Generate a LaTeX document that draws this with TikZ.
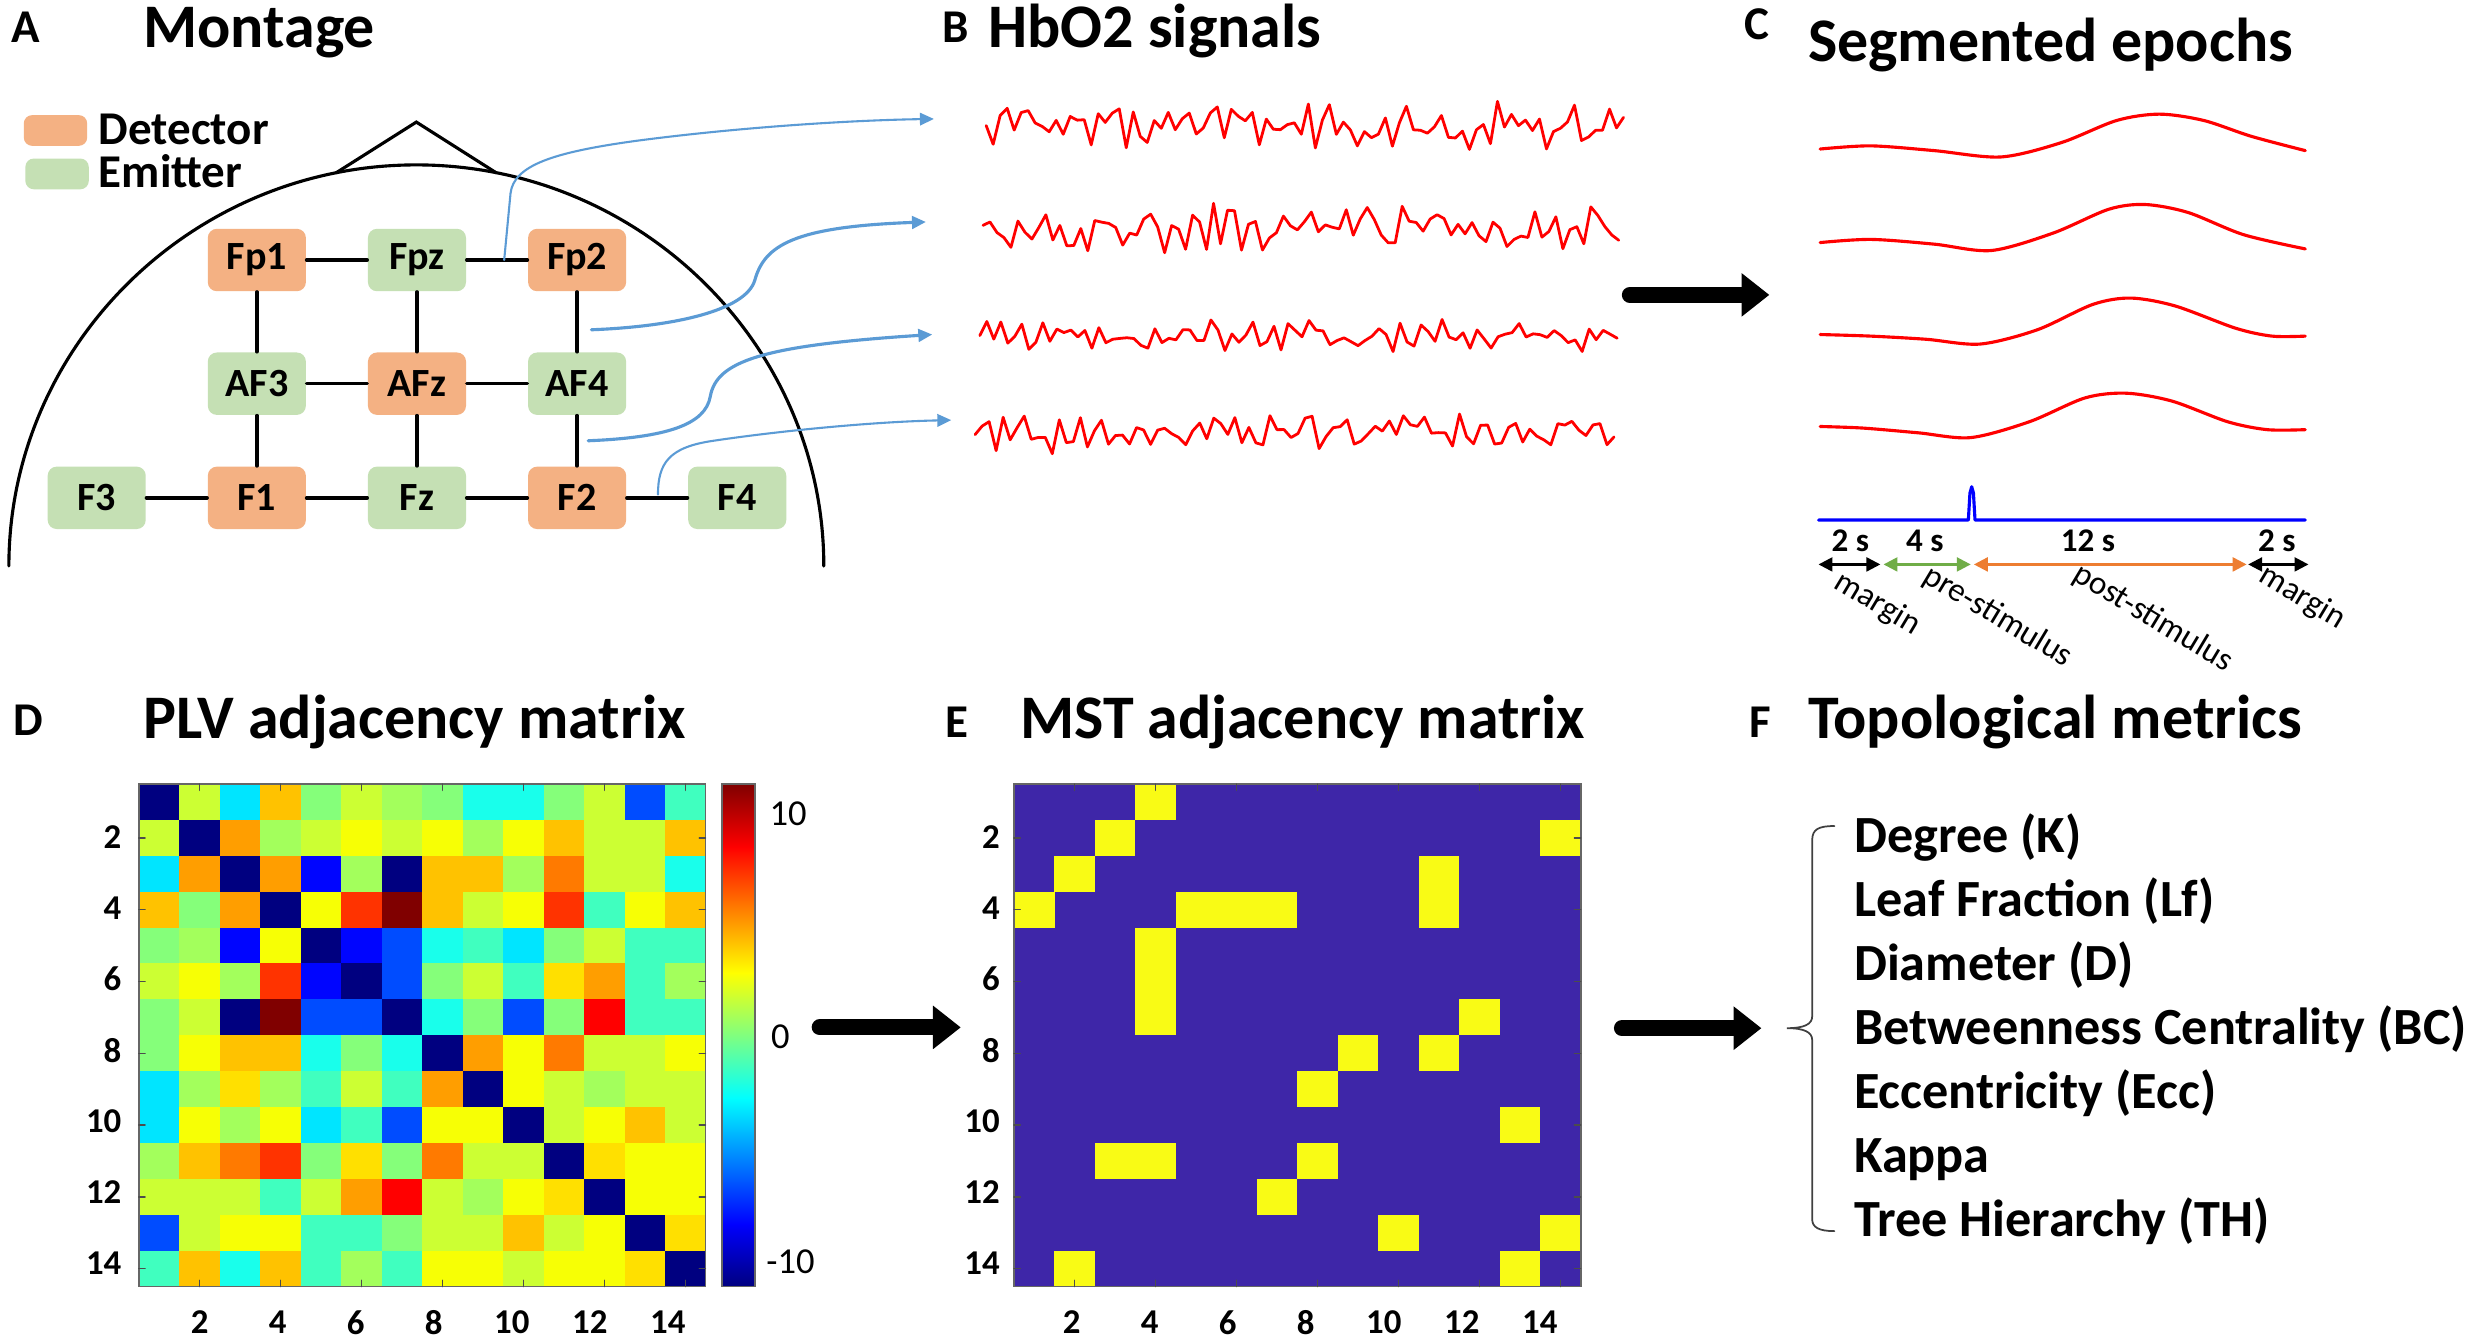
\documentclass[tikz,border=0pt]{standalone}
\usepackage{fontspec}
\setmainfont{Carlito}
\usepackage{tikz}
\usetikzlibrary{arrows.meta}

\definecolor{detector}{HTML}{F4B183}
\definecolor{emitter}{HTML}{C5E0B4}
\definecolor{wireblue}{HTML}{5B9BD5}
\definecolor{mstbg}{HTML}{3E26A8}
\definecolor{mstfg}{HTML}{F9FB15}
\definecolor{pregreen}{HTML}{70AD47}
\definecolor{postorange}{HTML}{ED7D31}
\definecolor{jk}{rgb}{0,0,0.5}
\definecolor{ju}{rgb}{0,0.02,1}
\definecolor{jb}{rgb}{0,0.3,1}
\definecolor{jc}{rgb}{0,0.9,1}
\definecolor{jq}{rgb}{0.1,1,0.92}
\definecolor{jt}{rgb}{0.25,1,0.75}
\definecolor{jg}{rgb}{0.52,1,0.48}
\definecolor{je}{rgb}{0.64,1,0.36}
\definecolor{jl}{rgb}{0.8,1,0.2}
\definecolor{jy}{rgb}{0.97,1,0.02}
\definecolor{jz}{rgb}{1,0.88,0}
\definecolor{jo}{rgb}{1,0.76,0}
\definecolor{ja}{rgb}{1,0.62,0}
\definecolor{jh}{rgb}{1,0.48,0}
\definecolor{jr}{rgb}{1,0.2,0}
\definecolor{jd}{rgb}{1,0,0}
\definecolor{jm}{rgb}{0.5,0,0}

\tikzset{
  panel/.style={anchor=base west,inner sep=0pt,font=\bfseries\fontsize{13.5}{15}\selectfont},
  headline/.style={anchor=base west,inner sep=0pt,font=\bfseries\fontsize{17.8}{21}\selectfont},
  probe/.style={rounded corners=2.6pt,minimum width=0.99cm,minimum height=0.63cm,inner sep=0pt,font=\bfseries\fontsize{11.5}{13}\selectfont},
  legbox/.style={rounded corners=2.4pt,minimum width=0.64cm,minimum height=0.31cm,inner sep=0pt},
  legend/.style={anchor=base west,inner sep=0pt,font=\bfseries\fontsize{13.5}{15}\selectfont},
  link/.style={line width=1pt},
  wire/.style={draw=wireblue,-{Triangle[length=4pt,width=3.6pt]}},
  trace/.style={red,line width=0.8pt,line join=round},
  epoch/.style={red,line width=0.9pt},
  dimarrow/.style={line width=0.7pt,{Triangle[length=4pt,width=4pt]}-{Triangle[length=4pt,width=4pt]}},
  tlabel/.style={inner sep=0pt,font=\bfseries\fontsize{9.5}{11}\selectfont},
  cue/.style={rotate=-31,inner sep=0pt,font=\fontsize{9.5}{11}\selectfont},
  bigarrow/.style={line width=4.6pt,-{Triangle[length=8pt,width=12pt]}},
  frame/.style={draw=black!60,line width=0.5pt},
  tickmark/.style={draw=black!70,line width=0.4pt},
  axlabel/.style={inner sep=0pt,font=\bfseries\fontsize{10}{11}\selectfont},
  metric/.style={anchor=base west,inner sep=0pt,font=\bfseries\fontsize{15}{17}\selectfont}
}

\begin{document}
\begin{tikzpicture}[x=0.016cm,y=-0.016cm,line cap=round]
\fill[white] (0,0) rectangle (1568,846);

\node[panel] at (7,27) {A};
\node[headline] at (90,30) {Montage};
\draw[line width=0.9pt] (212,109) -- (262.6,77) -- (313,109);
\draw[line width=0.9pt] (5.6,357) .. controls (5.6,218.4) and (120.7,104) .. (262.6,104)
  .. controls (404.5,104) and (519.6,218.4) .. (519.6,357);
\node[legbox,fill=detector] (detkey) at (35,82.3) {};
\node[legbox,fill=emitter] (emikey) at (36,109.7) {};
\node[legend] at (62,91) {Detector};
\node[legend] at (62,118) {Emitter};
\foreach \name/\x/\y/\kind in {Fp1/162/164/detector,Fpz/263/164/emitter,Fp2/364/164/detector,
  AF3/162/242/emitter,AFz/263/242/detector,AF4/364/242/emitter,
  F3/61/314/emitter,F1/162/314/detector,Fz/263/314/emitter,F2/364/314/detector,F4/465/314/emitter}
  \node[probe,fill=\kind] (\name) at (\x,\y) {\name};
\draw[link] (Fp1) -- (Fpz) -- (Fp2);
\draw[link] (AF3) -- (AFz) -- (AF4);
\draw[link] (F3) -- (F1) -- (Fz) -- (F2) -- (F4);
\draw[link] (Fp1) -- (AF3) -- (F1);
\draw[link] (Fpz) -- (AFz) -- (Fz);
\draw[link] (Fp2) -- (AF4) -- (F2);

\coordinate (w1) at (318,164);
\coordinate (w2) at (373,208);
\coordinate (w3) at (371,278);
\coordinate (w4) at (415,312);
\coordinate (t1) at (589,75);
\coordinate (t2) at (584,140);
\coordinate (t3) at (588,211);
\coordinate (t4) at (600,265);
\draw[wire,line width=0.6pt] (w1) -- (322,122) .. controls (324,104) and (350,96) .. (400,89)
  .. controls (460,81) and (530,76) .. (t1);
\draw[wire,line width=0.9pt] (w2) .. controls (425,206) and (470,196) .. (476,177)
  .. controls (482,155) and (500,143) .. (t2);
\draw[wire,line width=0.9pt] (w3) .. controls (420,276) and (445,268) .. (448,250)
  .. controls (452,228) and (480,218) .. (t3);
\draw[wire,line width=0.6pt] (w4) .. controls (415,292) and (422,282) .. (450,278)
  .. controls (490,272) and (550,266) .. (t4);

\node[panel] at (594,27) {B};
\node[headline] at (623,30) {HbO2 signals};
\foreach \yc/\amp/\xa/\xb/\sd in {79/11/622/1024/3,144/11/620/1021/7,212/7.5/618/1020/5,272/10/615/1018/9}{
  \pgfmathsetseed{\sd}
  \draw[trace] plot[domain=\xa:\xb,samples=92] (\x,{\yc+0.45*\amp*sin(30*mod(\x,12))+\amp*rand});
}
\draw[bigarrow] (1028,186) -- (1116,186);

\node[panel] at (1100,25) {C};
\node[headline] at (1140,39) {Segmented epochs};
\draw[epoch] plot[smooth] coordinates {(1148,94) (1180,92) (1220,95) (1262,99) (1300,90) (1335,76)
  (1362,72) (1390,76) (1420,86) (1454,95)};
\draw[epoch] plot[smooth] coordinates {(1148,153) (1180,151) (1220,154) (1256,158) (1295,147)
  (1330,132) (1353,129) (1380,134) (1415,148) (1454,157)};
\draw[epoch] plot[smooth] coordinates {(1148,211) (1180,212) (1215,214) (1249,217) (1285,208)
  (1320,192) (1344,188) (1372,193) (1410,207) (1433,212) (1454,212)};
\draw[epoch] plot[smooth] coordinates {(1148,269) (1175,270) (1210,273) (1243,276) (1280,266)
  (1315,251) (1341,248) (1370,253) (1405,266) (1430,271) (1454,271)};
\draw[blue,line width=0.9pt,line join=round] (1147,328) -- (1241.5,328) -- (1242.5,311)
  -- (1243.6,307) -- (1244.7,311) -- (1245.7,328) -- (1454,328);
\node[tlabel] at (1167,341) {2 s};
\node[tlabel] at (1214,341) {4 s};
\node[tlabel] at (1317,341) {12 s};
\node[tlabel] at (1436,341) {2 s};
\draw[dimarrow] (1147,356) -- (1186,356);
\draw[dimarrow,pregreen] (1188,356) -- (1243,356);
\draw[dimarrow,postorange] (1245,356) -- (1417,356);
\draw[dimarrow] (1418,356) -- (1456,356);
\node[cue] at (1184,381) {margin};
\node[cue] at (1260,389) {pre-stimulus};
\node[cue] at (1358,390) {post-stimulus};
\node[cue] at (1452,377) {margin};

\node[panel] at (8,464) {D};
\node[headline] at (90,466) {PLV adjacency matrix};
\foreach \row [count=\i] in {{k,l,c,o,g,l,e,g,q,q,g,l,b,t},{l,k,a,e,l,y,l,y,e,y,o,l,l,o},
  {c,a,k,a,u,e,k,o,o,e,h,l,l,q},{o,g,a,k,y,r,m,o,l,y,r,t,y,o},{g,e,u,y,k,u,b,q,t,c,g,l,t,t},
  {l,y,e,r,u,k,b,g,l,t,z,a,t,e},{g,l,k,m,b,b,k,q,g,b,g,d,t,t},{g,y,o,o,q,g,q,k,a,y,h,l,l,y},
  {c,e,z,e,t,l,t,a,k,y,l,e,l,l},{c,y,e,y,c,t,b,y,y,k,l,y,o,l},{e,o,h,r,g,z,g,h,l,l,k,z,y,y},
  {l,l,l,t,l,a,d,l,e,y,z,k,y,y},{b,l,y,y,t,t,g,l,l,o,l,y,k,z},{t,o,q,o,t,e,t,y,y,l,y,y,z,k}}
  \foreach \c [count=\j] in \row
    \fill[fill=j\c] ({87.5+(\j-1)*25.54},{494.5+(\i-1)*22.64}) rectangle ++(25.6,22.7);
\foreach \ya/\yb/\ca/\cb in {771.9/811.5/jk/blue,692.6/772.2/blue/cyan,613.4/692.9/cyan/yellow,
  534.1/613.7/yellow/red,494.5/534.4/red/jm}
  \shade[bottom color=\ca,top color=\cb] (455.5,\ya) rectangle (476,\yb);
\draw[frame] (455.5,494.5) rectangle (476,811.5);
\node[anchor=west,inner sep=0pt,font=\fontsize{10.5}{12}\selectfont] at (485,513) {10};
\node[anchor=west,inner sep=0pt,font=\fontsize{10.5}{12}\selectfont] at (486,654) {0};
\node[anchor=west,inner sep=0pt,font=\fontsize{10.5}{12}\selectfont] at (483,796) {-10};
\draw[bigarrow] (517,648) -- (606,648);

\node[panel] at (596,465) {E};
\node[headline] at (643,466) {MST adjacency matrix};
\fill[mstbg] (639.5,494.5) rectangle (997,811.5);
\foreach \r/\c in {1/4,2/3,2/14,3/2,3/11,4/1,4/5,4/6,4/7,4/11,5/4,6/4,7/4,7/12,8/9,8/11,9/8,
  10/13,11/3,11/4,11/8,12/7,13/10,13/14,14/2,14/13}
  \fill[mstfg] ({639.5+(\c-1)*25.54},{494.5+(\r-1)*22.64}) rectangle ++(25.6,22.7);

\foreach \xa/\xb/\ylab/\xlab in {87.5/445/77/126,639.5/997/631/676}{
  \draw[frame] (\xa,494.5) rectangle (\xb,811.5);
  \foreach \k in {2,4,...,14}{
    \draw[tickmark] (\xa,{494.5+(\k-0.5)*22.64}) -- ++(4,0);
    \draw[tickmark] (\xb,{494.5+(\k-0.5)*22.64}) -- ++(-4,0);
    \draw[tickmark] ({\xa+(\k-0.5)*(\xb-\xa)/14},494.5) -- ++(0,4);
    \draw[tickmark] ({\xa+(\k-0.5)*(\xb-\xa)/14},811.5) -- ++(0,-4);
    \node[axlabel,anchor=east] at (\ylab,{528+(\k-2)*22.4}) {\k};
    \node[axlabel] at ({\xlab+(\k-2)*24.6},834) {\k};
  }
}
\draw[bigarrow] (1023,648.5) -- (1111,648.5);

\node[panel] at (1103,465) {F};
\node[headline] at (1140,466) {Topological metrics};
\draw[black!75,line width=0.5pt] (1157,521) .. controls (1147,521) and (1143,523) .. (1143,530)
  -- (1143,641) .. controls (1143,646) and (1138,648.5) .. (1127,648.5)
  .. controls (1138,648.5) and (1143,651) .. (1143,656) -- (1143,769)
  .. controls (1143,774) and (1147,776.5) .. (1157,776.5);
\foreach \m [count=\i] in {Degree (K),Leaf Fraction (Lf),Diameter (D),Betweenness Centrality (BC),
  Eccentricity (Ecc),Kappa,Tree Hierarchy (TH)}
  \node[metric] at (1169,{537.6+(\i-1)*40.4}) {\m};
\end{tikzpicture}
\end{document}
